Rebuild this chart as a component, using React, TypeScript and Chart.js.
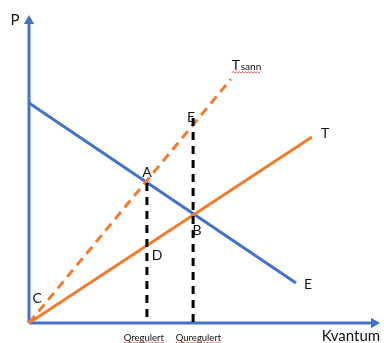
import React, { useEffect, useRef } from "react";
import { Chart, registerables } from "chart.js";
Chart.register(...registerables);

// Axis extents (quantity / price units)
const quantityAxisEnd = 11.5;
const priceAxisEnd = 10.07;

// Demand curve E
const demandQ = [0, 8.9];
const demandP = [7.33, 1.33];

// Private supply T
const supplyQ = [0, 9.43];
const supplyP = [0, 6.2];

// True (social) supply Tsann
const trueSupplyQ = [0, 6.73];
const trueSupplyP = [0, 8.13];

// Regulated / unregulated quantities and dashed heights
const markerQ = [3.93, 5.47];
const markerTop = [4.67, 6.83];

// Text labels
const labelTexts = ["P", "T", "E", "A", "B", "D", "C", "T", "E", "Kvantum", "Qregulert", "Quregulert"];
const labelSubs = ["", "sann", "", "", "", "", "", "", "", "", "", ""];
const labelQ = [-0.47, 6.9, 5.4, 3.93, 5.6, 4.27, 0.27, 9.87, 9.3, 10.73, 3.83, 5.65];
const labelP = [10.13, 8.6, 6.86, 5.03, 3.1, 2.27, 0.83, 6.33, 1.3, -0.43, -0.47, -0.47];
const labelSize = [15, 14, 14, 14, 14, 14, 14, 14, 14, 15, 9.5, 9.5];
const labelWavy = [false, true, false, false, false, false, false, false, false, false, true, true];

const BLUE = "#4472C4";
const ORANGE = "#ED7D31";
const FONT = "Lato, 'Open Sans', sans-serif";

const pts = (qs: number[], ps: number[]) => qs.map((q, i) => ({ x: q, y: ps[i] }));

function wavy(ctx: CanvasRenderingContext2D, x0: number, x1: number, y: number) {
  ctx.save();
  ctx.strokeStyle = "#e03030";
  ctx.lineWidth = 0.8;
  ctx.beginPath();
  let up = true;
  ctx.moveTo(x0, y);
  for (let x = x0 + 1.5; x <= x1; x += 1.5) {
    ctx.lineTo(x, up ? y - 1 : y + 0.5);
    up = !up;
  }
  ctx.stroke();
  ctx.restore();
}

const labelPlugin = {
  id: "labels",
  afterDatasetsDraw(chart: any) {
    const ctx: CanvasRenderingContext2D = chart.ctx;
    const xs = chart.scales.x;
    const ys = chart.scales.y;
    ctx.save();
    ctx.fillStyle = "#111";
    labelTexts.forEach((t, i) => {
      const px = xs.getPixelForValue(labelQ[i]);
      const py = ys.getPixelForValue(labelP[i]);
      const size = labelSize[i];
      ctx.font = `${size}px ${FONT}`;
      const w1 = ctx.measureText(t).width;
      let total = w1;
      const sub = labelSubs[i];
      if (sub) {
        ctx.font = `${size * 0.72}px ${FONT}`;
        total = w1 + ctx.measureText(sub).width;
      }
      const left = sub ? px - w1 / 2 : px - total / 2;
      ctx.font = `${size}px ${FONT}`;
      ctx.textAlign = "left";
      ctx.textBaseline = "alphabetic";
      const baseline = py + size * 0.36;
      ctx.fillText(t, left, baseline);
      if (sub) {
        ctx.font = `${size * 0.72}px ${FONT}`;
        ctx.fillText(sub, left + w1 + 0.5, baseline);
      }
      if (labelWavy[i]) {
        wavy(ctx, left, left + total + 1, baseline + 2.5);
      }
    });
    ctx.restore();
  },
};

export default function App() {
  const ref = useRef<HTMLCanvasElement | null>(null);
  useEffect(() => {
    if (!ref.current) return;
    const chart = new Chart(ref.current, {
      type: "line",
      data: {
        datasets: [
          {
            label: "Qregulert",
            data: pts([markerQ[0], markerQ[0]], [markerTop[0], 0]),
            borderColor: "#000",
            borderWidth: 3,
            borderDash: [8, 6],
            pointRadius: 0,
            order: 1,
          },
          {
            label: "Quregulert",
            data: pts([markerQ[1], markerQ[1]], [markerTop[1], 0]),
            borderColor: "#000",
            borderWidth: 3,
            borderDash: [8, 6],
            pointRadius: 0,
            order: 1,
          },
          {
            label: "Tsann",
            data: pts(trueSupplyQ, trueSupplyP),
            borderColor: ORANGE,
            borderWidth: 3,
            borderDash: [9, 6],
            pointRadius: 0,
            order: 2,
          },
          {
            label: "T",
            data: pts(supplyQ, supplyP),
            borderColor: ORANGE,
            borderWidth: 3,
            pointRadius: 0,
            order: 3,
          },
          {
            label: "E",
            data: pts(demandQ, demandP),
            borderColor: BLUE,
            borderWidth: 3,
            pointRadius: 0,
            order: 4,
          },
          {
            label: "P-axis",
            data: [
              { x: 0, y: 0 },
              { x: 0, y: priceAxisEnd },
            ],
            borderColor: BLUE,
            backgroundColor: BLUE,
            borderWidth: 3,
            pointRadius: [0, 6],
            pointStyle: "triangle",
            pointRotation: 0,
            pointBorderWidth: 0,
            order: 5,
          },
          {
            label: "Q-axis",
            data: [
              { x: 0, y: 0 },
              { x: quantityAxisEnd, y: 0 },
            ],
            borderColor: BLUE,
            backgroundColor: BLUE,
            borderWidth: 3,
            pointRadius: [0, 6],
            pointStyle: "triangle",
            pointRotation: 90,
            pointBorderWidth: 0,
            order: 5,
          },
        ],
      },
      options: {
        animation: false,
        responsive: false,
        devicePixelRatio: 1,
        layout: { padding: 0, autoPadding: false },
        plugins: { legend: { display: false }, tooltip: { enabled: false } },
        events: [],
        scales: {
          x: { type: "linear", display: false, min: -0.9667, max: 11.8333 },
          y: { type: "linear", display: false, min: -0.6667, max: 10.7667 },
        },
      },
      plugins: [labelPlugin],
    } as any);
    return () => chart.destroy();
  }, []);
  return (
    <div style={{ position: "fixed", left: 0, top: 0, width: 384, height: 343, background: "#fff" }}>
      <canvas ref={ref} width={384} height={343} />
    </div>
  );
}
